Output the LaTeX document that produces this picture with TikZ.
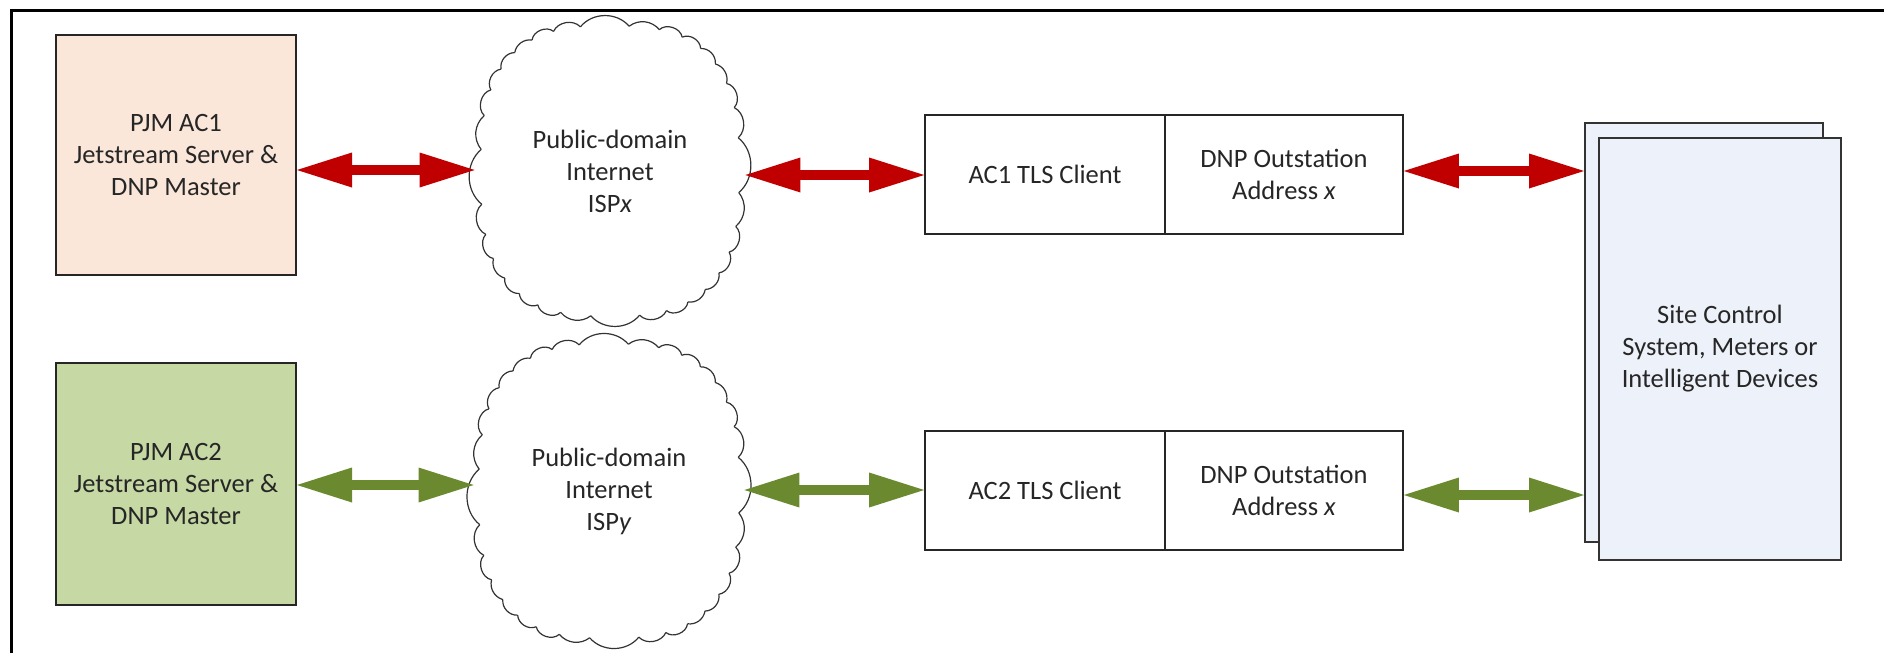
\documentclass[tikz,border=0pt]{standalone}
\usepackage{fontspec}
\setmainfont{Carlito}
\usetikzlibrary{arrows.meta}
\definecolor{peach}{HTML}{FBE7DA}
\definecolor{sage}{HTML}{C6D8A3}
\definecolor{sitebg}{HTML}{EDF1F9}
\definecolor{arrred}{HTML}{C00000}
\definecolor{arrgreen}{HTML}{6B8A30}
\definecolor{txt}{HTML}{262626}
% puffy cloud outline drawn around a named node (#1), half sizes #2, #3 (px units)
\newcommand{\puffcloud}[3]{%
  \foreach \pci in {0,...,31}{%
    \pgfmathsetmacro{\pcta}{\pci*11.25+4}%
    \pgfmathsetmacro{\pctb}{\pcta+11.25}%
    \pgfmathsetmacro{\pcxa}{#2*sign(cos(\pcta))*pow(abs(cos(\pcta)),0.72)}%
    \pgfmathsetmacro{\pcya}{#3*sign(sin(\pcta))*pow(abs(sin(\pcta)),0.72)}%
    \pgfmathsetmacro{\pcxb}{#2*sign(cos(\pctb))*pow(abs(cos(\pctb)),0.72)}%
    \pgfmathsetmacro{\pcyb}{#3*sign(sin(\pctb))*pow(abs(sin(\pctb)),0.72)}%
    \pgfmathsetmacro{\pcbend}{44+6*mod(\pci*7,4)}%
    \draw[cloudline] ([shift={(\pcxa,\pcya)}]#1.center) to[bend left=\pcbend] ([shift={(\pcxb,\pcyb)}]#1.center);
  }}
\begin{document}
\begin{tikzpicture}[x=0.5pt,y=-0.5pt,
  every node/.style={font=\fontsize{13.25pt}{16pt}\selectfont, text=txt, align=center, inner sep=0pt},
  pjmbox/.style={draw=black!85, line width=1pt, minimum width=120pt, minimum height=120pt},
  netcloud/.style={minimum width=135pt, minimum height=151.5pt},
  cloudline/.style={draw=black!80, line width=0.6pt},
  tlsbox/.style={draw=black!85, line width=0.9pt, minimum height=59.5pt},
  sitebox/.style={draw=black!80, fill=sitebg, line width=1pt},
  dblarrow/.style={line width=5pt, {Triangle[length=27.5pt,width=17.5pt,line width=0pt]}-{Triangle[length=27.5pt,width=17.5pt,line width=0pt]}}
]
\useasboundingbox (0,0) rectangle (1884,653);
\fill[white] (0,0) rectangle (1884,653);
% frame
\draw[line width=1.5pt] (11,653) -- (11,10) -- (1884,10);

% left boxes
\node[pjmbox, fill=peach] (ac1) at (176,155) {PJM AC1\\Jetstream Server \&\\DNP Master};
\node[pjmbox, fill=sage, minimum height=121pt] (ac2) at (176,484) {PJM AC2\\Jetstream Server \&\\DNP Master};

% clouds
\node[netcloud] (c1) at (610,171) {Public-domain\\Internet\\ISP\textit{x}};
\node[netcloud, minimum height=153.5pt] (c2) at (609,491) {Public-domain\\Internet\\ISP\textit{y}};
\puffcloud{c1}{129}{145}
\puffcloud{c2}{130}{147}

% TLS boxes
\node[tlsbox, minimum width=120pt] (t1a) at (1045,174.5) {AC1 TLS Client};
\node[tlsbox, minimum width=119pt] (t1b) at (1284,174.5) {DNP Outstation\\Address \textit{x}};
\node[tlsbox, minimum width=120pt] (t2a) at (1045,490.5) {AC2 TLS Client};
\node[tlsbox, minimum width=119pt] (t2b) at (1284,490.5) {DNP Outstation\\Address \textit{x}};

% site boxes
\node[sitebox, minimum width=119pt, minimum height=209.5pt] (sback) at (1704,332.5) {};
\node[sitebox, minimum width=121pt, minimum height=211pt] (site) at (1720,349) {Site Control\\System, Meters or\\Intelligent Devices};

% arrow endpoints
\coordinate (r1a) at (ac1.east |- 0,170);
\coordinate (r1b) at (c1.west |- 0,170);
\coordinate (r2a) at (c1.east |- 0,175);
\coordinate (r2b) at (t1a.west |- 0,175);
\coordinate (r3a) at (t1b.east |- 0,171);
\coordinate (r3b) at (sback.west |- 0,171);
\coordinate (g1a) at (ac2.east |- 0,485);
\coordinate (g1b) at (c2.west |- 0,485);
\coordinate (g2a) at (c2.east |- 0,490);
\coordinate (g2b) at (t2a.west |- 0,490);
\coordinate (g3a) at (t2b.east |- 0,495);
\coordinate (g3b) at (sback.west |- 0,495);

\draw[dblarrow, arrred] (r1a) -- (r1b);
\draw[dblarrow, arrred] (r2a) -- (r2b);
\draw[dblarrow, arrred] (r3a) -- (r3b);
\draw[dblarrow, arrgreen] (g1a) -- (g1b);
\draw[dblarrow, arrgreen] (g2a) -- (g2b);
\draw[dblarrow, arrgreen] (g3a) -- (g3b);
\end{tikzpicture}
\end{document}
